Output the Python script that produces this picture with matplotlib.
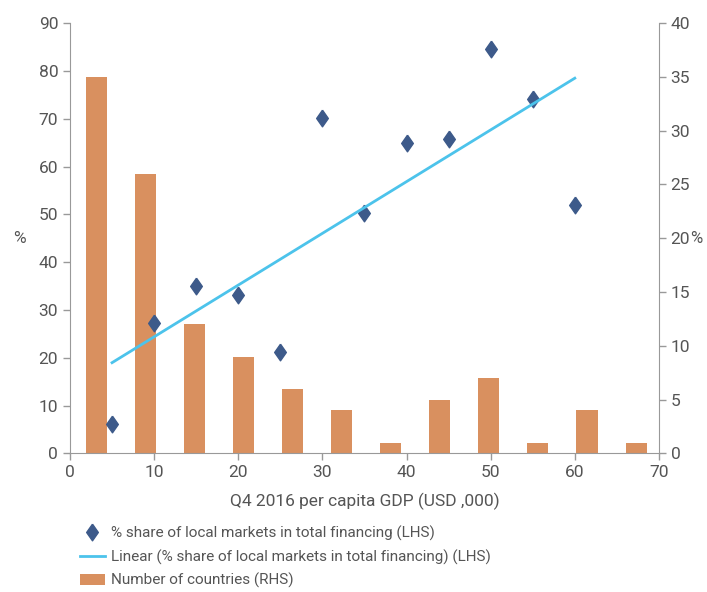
import numpy as np
import matplotlib
matplotlib.use("Agg")
import matplotlib.pyplot as plt
from matplotlib import font_manager

# data
gdp = [5, 10, 15, 20, 25, 30, 35, 40, 45, 50, 55, 60]
local_share = [6.2, 27.3, 35.0, 33.2, 21.2, 70.2, 50.2, 65.0, 65.8, 84.5, 74.2, 52.0]
n_countries = [35, 26, 12, 9, 6, 4, 1, 5, 7, 1, 4, 1]

names = set(f.name for f in font_manager.fontManager.ttflist)
fam = "Liberation Sans Narrow" if "Liberation Sans Narrow" in names else "Roboto"
plt.rcParams["font.family"] = [fam, "DejaVu Sans"]

grey = "#555555"
axc = "#999999"

fig = plt.figure(figsize=(7.07, 5.92), dpi=100)
ax = fig.add_axes([0.099, 0.234, 0.833, 0.727])
ax2 = ax.twinx()

# bars sit in 12 equal bins over the 0-70 range (slightly shifted right like the source)
bin_w = 70 / len(n_countries)
bar_x = [0.2 + (i + 0.5) * bin_w for i in range(len(n_countries))]
bars = ax2.bar(bar_x, n_countries, width=2.5, color="#D9905F", zorder=1,
               label="Number of countries (RHS)")

ax.set_zorder(ax2.get_zorder() + 1)
ax.patch.set_visible(False)

diamond = [(0, 1), (0.7, 0), (0, -1), (-0.7, 0), (0, 1)]
sc, = ax.plot(gdp, local_share, linestyle="none", marker=diamond, markersize=12,
              color="#3D5A8A", label="% share of local markets in total financing (LHS)")
k, b = np.polyfit(gdp, local_share, 1)
fit_x = np.array([gdp[0], gdp[-1]])
ln, = ax.plot(fit_x, k * fit_x + b, color="#4CC3EB", lw=2,
              label="Linear (% share of local markets in total financing) (LHS)")

ax.set_xlim(0, 70)
ax.set_ylim(0, 90)
ax2.set_ylim(0, 40)
ax.set_xticks(range(0, 71, 10))
ax.set_yticks(range(0, 91, 10))
ax2.set_yticks(range(0, 41, 5))

for a in (ax, ax2):
    for s in a.spines.values():
        s.set_visible(False)
    a.tick_params(colors=axc, labelcolor=grey, labelsize=12.5, length=5, width=1)
ax.spines["left"].set_visible(True)
ax.spines["bottom"].set_visible(True)
ax2.spines["right"].set_visible(True)
for s in (ax.spines["left"], ax.spines["bottom"], ax2.spines["right"]):
    s.set_color(axc)

ax.set_xlabel("Q4 2016 per capita GDP (USD ,000)", color=grey, fontsize=12.5, labelpad=9)
ax.set_ylabel("%", color=grey, fontsize=12.5, rotation=0, labelpad=14, va="center")
ax2.set_ylabel("%", color=grey, fontsize=12, rotation=0, labelpad=4, va="center")

fig.legend(handles=[sc, ln, bars], loc="upper left", bbox_to_anchor=(0.102, 0.125),
           frameon=False, fontsize=11, labelcolor=grey, handlelength=1.65,
           handletextpad=0.4, labelspacing=0.55, borderpad=0)

fig.savefig("out.png", dpi=100)
